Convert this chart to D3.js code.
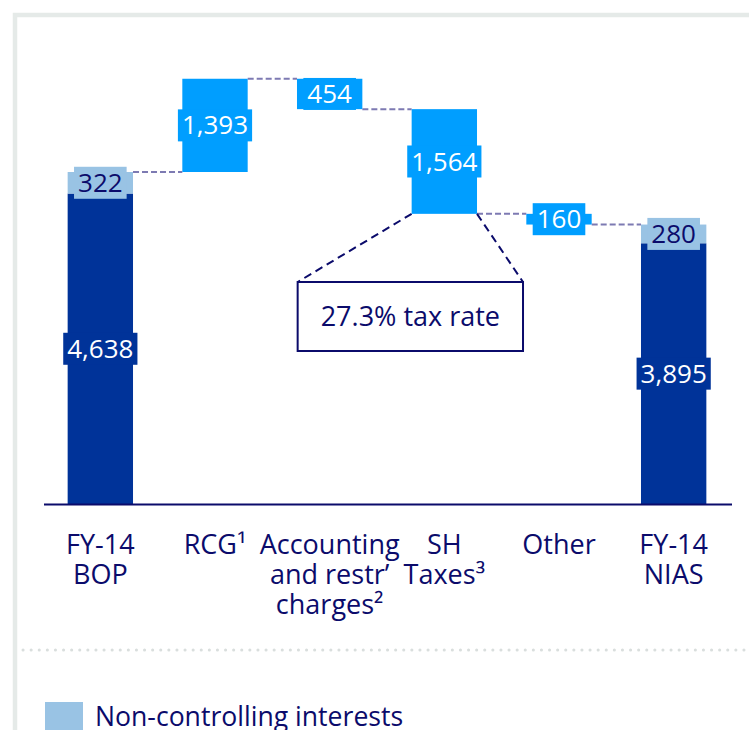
<!DOCTYPE html>
<html>
<head>
<meta charset="utf-8">
<script src="https://cdn.jsdelivr.net/npm/d3@7"></script>
<style>
  body { margin: 0; background: #fff; }
  svg { display: block; font-family: "Open Sans", "Noto Sans", sans-serif; }
</style>
</head>
<body>
<svg id="svg"></svg>
<script>
// chart data
const categories = ["FY-14 BOP", "RCG", "Accounting and restr’ charges", "SH Taxes", "Other", "FY-14 NIAS"];
const categoryLines = [["FY-14", "BOP"], ["RCG¹"], ["Accounting", "and restr’", "charges²"], ["SH", "Taxes³"], ["Other"], ["FY-14", "NIAS"]];
const ownValues = [4638, 0, 0, 0, 0, 3895];     // totals, group share
const nciValues = [322, 0, 0, 0, 0, 280];       // non-controlling interests
const deltas = [0, 1393, -454, -1564, -160, 0]; // bridge steps
const isTotal = [true, false, false, false, false, true];
const taxNote = "27.3% tax rate";
const legendLabel = "Non-controlling interests";

const width = 749, height = 730;
const navy = "#0b0b6b", dark = "#003399", bright = "#009eff", light = "#99c3e4";

const svg = d3.select("#svg").attr("width", width).attr("height", height);

// frame
svg.append("path")
    .attr("d", "M15,730 V15 H749")
    .attr("fill", "none")
    .attr("stroke", "#e5eae8")
    .attr("stroke-width", 4.5);

// build the bridge
let level = 0;
const bars = categories.map((c, i) => {
    if (isTotal[i]) {
        level = ownValues[i] + nciValues[i];
        return { i, total: true, own: ownValues[i], nci: nciValues[i], start: 0, end: level };
    }
    const start = level;
    level += deltas[i];
    return { i, total: false, start, end: level, value: deltas[i] };
});

const x = d3.scaleBand()
    .domain(categories)
    .range([43, 731])
    .paddingInner(0.43)
    .paddingOuter(0.215);

const y = d3.scaleLinear()
    .domain([0, 4960])
    .range([504, 172]);

const fmt = d3.format(",");
const bw = x.bandwidth();

// connectors
for (let k = 0; k < bars.length - 1; k++) {
    const lv = bars[k].end;
    svg.append("line")
        .attr("x1", x(categories[k]) + bw)
        .attr("x2", x(categories[k + 1]))
        .attr("y1", y(lv))
        .attr("y2", y(lv))
        .attr("stroke", "#7d7ab2")
        .attr("stroke-width", 2)
        .attr("stroke-dasharray", "6,3");
}

// tax annotation
const sh = bars[3];
const shX = x(categories[3]);
const boxL = shX - 114, boxR = shX + bw + 46, boxT = 282, boxB = 351;
svg.append("line")
    .attr("x1", shX).attr("y1", y(sh.end))
    .attr("x2", boxL).attr("y2", boxT)
    .attr("stroke", navy).attr("stroke-width", 2).attr("stroke-dasharray", "8,5");
svg.append("line")
    .attr("x1", shX + bw).attr("y1", y(sh.end))
    .attr("x2", boxR).attr("y2", boxT)
    .attr("stroke", navy).attr("stroke-width", 2).attr("stroke-dasharray", "8,5");
svg.append("rect")
    .attr("x", boxL).attr("y", boxT)
    .attr("width", boxR - boxL).attr("height", boxB - boxT)
    .attr("fill", "#fff").attr("stroke", navy).attr("stroke-width", 2);
svg.append("text")
    .attr("x", (boxL + boxR) / 2).attr("y", (boxT + boxB) / 2)
    .attr("dy", "0.35em")
    .attr("text-anchor", "middle")
    .attr("font-size", 27)
    .attr("fill", navy)
    .text(taxNote);

// bars
const g = svg.append("g");
const labels = [];
bars.forEach(b => {
    const bx = x(categories[b.i]);
    if (b.total) {
        g.append("rect")
            .attr("x", bx).attr("width", bw)
            .attr("y", y(b.own)).attr("height", y(0) - y(b.own))
            .attr("fill", dark);
        g.append("rect")
            .attr("x", bx).attr("width", bw)
            .attr("y", y(b.end)).attr("height", y(b.own) - y(b.end))
            .attr("fill", light);
        labels.push({ cx: bx + bw / 2, cy: (y(0) + y(b.own)) / 2, text: fmt(b.own), bg: dark, fg: "#fff" });
        labels.push({ cx: bx + bw / 2, cy: (y(b.own) + y(b.end)) / 2, text: fmt(b.nci), bg: light, fg: navy });
    } else {
        const top = y(Math.max(b.start, b.end)), bot = y(Math.min(b.start, b.end));
        g.append("rect")
            .attr("x", bx).attr("width", bw)
            .attr("y", top).attr("height", bot - top)
            .attr("fill", bright);
        labels.push({ cx: bx + bw / 2, cy: (top + bot) / 2, text: fmt(Math.abs(b.value)), bg: bright, fg: "#fff" });
    }
});

// value labels with background boxes
labels.forEach(l => {
    const lg = svg.append("g");
    const r = lg.append("rect").attr("fill", l.bg);
    const t = lg.append("text")
        .attr("x", l.cx).attr("y", l.cy)
        .attr("dy", "0.35em")
        .attr("text-anchor", "middle")
        .attr("font-size", 26)
        .attr("fill", l.fg)
        .text(l.text);
    const w = t.node().getComputedTextLength() + 8;
    r.attr("x", l.cx - w / 2).attr("y", l.cy - 16).attr("width", w).attr("height", 32);
});

// baseline
svg.append("line")
    .attr("x1", 44).attr("x2", 732)
    .attr("y1", y(0) + 0.5).attr("y2", y(0) + 0.5)
    .attr("stroke", navy).attr("stroke-width", 2);

// category labels, one text per line
categoryLines.forEach((lines, i) => {
    lines.forEach((s, j) => {
        svg.append("text")
            .attr("x", x(categories[i]) + bw / 2)
            .attr("y", 554 + j * 30)
            .attr("text-anchor", "middle")
            .attr("font-size", 27)
            .attr("fill", navy)
            .text(s);
    });
});

// separator
svg.append("line")
    .attr("x1", 23).attr("x2", 749)
    .attr("y1", 650).attr("y2", 650)
    .attr("stroke", "#d9dedd")
    .attr("stroke-width", 3)
    .attr("stroke-linecap", "round")
    .attr("stroke-dasharray", "0.1,8");

// legend
svg.append("rect")
    .attr("x", 45).attr("y", 702)
    .attr("width", 38).attr("height", 38)
    .attr("fill", light);
svg.append("text")
    .attr("x", 95).attr("y", 726)
    .attr("font-size", 26.6)
    .attr("fill", navy)
    .text(legendLabel);
</script>
</body>
</html>
